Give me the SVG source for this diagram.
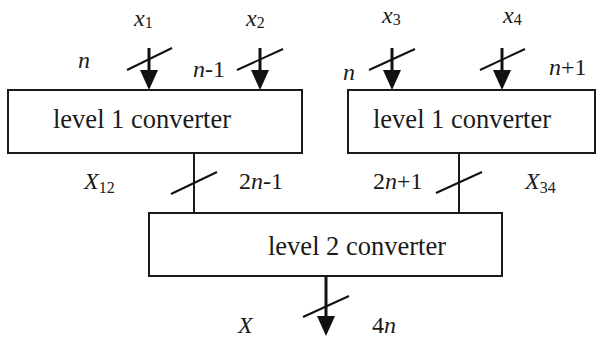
<svg xmlns="http://www.w3.org/2000/svg" width="605" height="340" viewBox="0 0 605 340">
<style>
.box{fill:#fff;stroke:#1a1a1a;stroke-width:2}
.ln{stroke:#1a1a1a;stroke-width:2;fill:none}
.shaft{stroke:#111;stroke-width:3;fill:none}
.sl{stroke:#111;stroke-width:2;fill:none}
.head{fill:#111}
.t{font-family:"Liberation Serif","Times New Roman",serif;font-size:26.5px;fill:#1a1a1a}
.lb{font-family:"Liberation Serif","Times New Roman",serif;font-size:24px;fill:#1a1a1a}
.i{font-style:italic}
.sub{font-size:16px}
</style>
<defs>
<path id="ah" d="M-9,-20 L9,-20 L0,0 Z"/>
</defs>
<g id="conv1">
<rect class="box" x="8" y="90" width="294" height="63"/>
<text class="t" x="53" y="128">level 1 converter</text>
</g>
<g id="conv2">
<rect class="box" x="348" y="90" width="247" height="63"/>
<text class="t" x="373" y="128">level 1 converter</text>
</g>
<g id="conv3">
<rect class="box" x="149" y="213" width="353" height="63"/>
<text class="t" x="268" y="255">level 2 converter</text>
</g>
<g id="connectors">
<line class="shaft" x1="149" y1="48" x2="149" y2="72"/>
<use href="#ah" class="head" x="149" y="90"/>
<line class="sl" x1="127" y1="70" x2="172" y2="48"/>
<line class="shaft" x1="260" y1="48" x2="260" y2="72"/>
<use href="#ah" class="head" x="260" y="90"/>
<line class="sl" x1="237" y1="70" x2="283" y2="49"/>
<line class="shaft" x1="392" y1="48" x2="392" y2="72"/>
<use href="#ah" class="head" x="392" y="90"/>
<line class="sl" x1="369" y1="70" x2="415" y2="49"/>
<line class="shaft" x1="502" y1="48" x2="502" y2="72"/>
<use href="#ah" class="head" x="502" y="90"/>
<line class="sl" x1="480" y1="70" x2="525" y2="49"/>
<line class="ln" x1="194" y1="153" x2="194" y2="213"/>
<line class="sl" x1="171" y1="194" x2="217" y2="172"/>
<line class="ln" x1="459" y1="153" x2="459" y2="213"/>
<line class="sl" x1="436" y1="193" x2="482" y2="172"/>
<line class="shaft" x1="326" y1="276" x2="326" y2="318"/>
<use href="#ah" class="head" x="326" y="336"/>
<line class="sl" x1="303" y1="317" x2="349" y2="296"/>
</g>
<g id="labels">
<text class="lb" x="134" y="26"><tspan class="i">x</tspan><tspan class="sub" dy="2">1</tspan></text>
<text class="lb" x="246" y="26"><tspan class="i">x</tspan><tspan class="sub" dy="2">2</tspan></text>
<text class="lb" x="382" y="23"><tspan class="i">x</tspan><tspan class="sub" dy="2">3</tspan></text>
<text class="lb" x="503" y="23"><tspan class="i">x</tspan><tspan class="sub" dy="2">4</tspan></text>
<text class="lb i" x="78" y="68">n</text>
<text class="lb" x="193" y="77"><tspan class="i">n</tspan>-1</text>
<text class="lb i" x="343" y="80">n</text>
<text class="lb" x="549" y="75"><tspan class="i">n</tspan>+1</text>
<text class="lb" x="84" y="189"><tspan class="i">X</tspan><tspan class="sub" dy="4">12</tspan></text>
<text class="lb" x="239" y="189">2<tspan class="i">n</tspan>-1</text>
<text class="lb" x="373" y="189">2<tspan class="i">n</tspan>+1</text>
<text class="lb" x="525" y="189"><tspan class="i">X</tspan><tspan class="sub" dy="4">34</tspan></text>
<text class="lb i" x="238" y="333">X</text>
<text class="lb" x="372" y="333">4<tspan class="i">n</tspan></text>
</g>
</svg>
